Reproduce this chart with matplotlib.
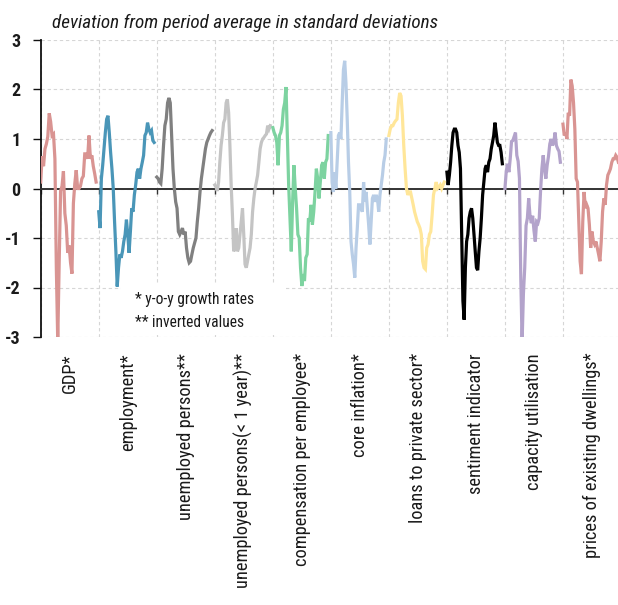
import numpy as np
import matplotlib
matplotlib.use("Agg")
import matplotlib.pyplot as plt
import matplotlib.font_manager as fm
from matplotlib.patches import Rectangle
import matplotlib.transforms as mtransforms

# ---------------- data ----------------
categories = ["GDP*", "employment*", "unemployed persons**",
              "unemployed persons(< 1 year)**", "compensation per employee*",
              "core inflation*", "loans to private sector*", "sentiment indicator",
              "capacity utilisation", "prices of existing dwellings*"]

gdp = [0.13, 0.65, 0.45, 0.8, 0.9, 1.05, 1.52, 1.35, 1.07, 1.1, 0.6, -1.6, -3.1, -1.5,
       -0.05, 0.05, 0.35, -0.5, -0.75, -1.3, -1.15, -1.5, -1.72, -0.3, 0.1, 0.37, 0.0,
       0.0, 0.05, 0.2, 0.25, 0.7, 0.7, 0.6, 1.07, 0.6, 0.67, 0.45, 0.3, 0.13]
employment = [-0.47, -0.8, 0.2, 0.47, 0.8, 1.13, 1.4, 1.47, 1.13, 0.73, 0.4, 0.0, -0.67,
              -1.27, -1.98, -1.6, -1.33, -1.4, -1.27, -1.07, -0.93, -0.63, -0.93, -1.3,
              -0.87, -0.4, -0.47, -0.13, 0.07, 0.33, 0.4, 0.2, 0.4, 0.53, 0.67, 1.07,
              1.13, 1.33, 1.2, 1.13, 1.17, 0.97, 0.93]
unemployed = [0.23, 0.2, 0.13, 0.1, 0.4, 0.87, 1.27, 1.4, 1.73, 1.83, 1.73, 1.07, 0.4, 0.0,
              -0.27, -0.4, -0.87, -0.93, -0.87, -0.8, -0.93, -0.87, -1.2, -1.4, -1.5,
              -1.47, -1.33, -1.2, -1.1, -1.0, -0.67, -0.4, -0.07, 0.2, 0.4, 0.6, 0.8,
              0.93, 1.0, 1.07, 1.13, 1.17]
unemployed_short = [0.07, 0.03, -0.05, 0.13, 0.53, 0.87, 1.07, 1.33, 1.4, 1.73, 1.8, 1.53,
                    0.87, 0.07, -0.53, -1.27, -1.2, -0.8, -1.27, -1.2, -0.93, -0.67, -0.4,
                    -0.93, -1.53, -1.6, -1.47, -1.33, -1.2, -0.93, -0.47, -0.2, 0.0, 0.13,
                    0.27, 0.53, 0.8, 0.93, 1.0, 1.03, 1.07, 1.1, 1.27, 1.2, 1.27]
compensation = [1.23, 1.13, 1.07, 0.93, 0.47, 1.07, 1.13, 1.27, 1.6, 1.73, 2.05, 1.07, 0.07,
                -0.6, -1.27, -0.27, 0.47, 0.0, -0.4, -0.93, -1.0, -1.6, -1.97, -1.73, -1.87,
                -1.4, -1.33, -0.6, -0.67, -0.33, -0.73, -0.47, -0.07, 0.4, 0.2, -0.2, 0.13,
                0.47, 0.53, 0.2, 0.53, 0.6, 1.07]
core_inflation = [1.13, 0.13, -0.07, 0.33, 0.0, 0.53, 1.07, 1.13, 1.0, 1.73, 2.4, 2.58, 2.13,
                  1.4, 0.53, -0.07, -1.07, -1.33, -1.53, -1.8, -1.2, -0.8, -0.33, -0.33,
                  -0.4, -0.47, 0.13, -0.27, -0.07, -0.4, -0.73, -1.13, -0.67, -0.2, -0.13,
                  -0.27, -0.13, -0.2, -0.47, -0.13, 0.07, 0.27, 0.53, 0.67, 1.0]
loans = [1.07, 1.2, 1.27, 1.27, 1.33, 1.37, 1.4, 1.73, 1.93, 1.87, 1.47, 0.87, 0.4, 0.0,
         -0.13, -0.07, -0.07, -0.2, -0.33, -0.47, -0.57, -0.67, -0.73, -0.8, -0.93, -1.47,
         -1.6, -1.63, -1.2, -1.13, -0.93, -0.87, -0.53, -0.13, 0.0, 0.13, 0.0, 0.03, 0.07,
         0.0, 0.07, 0.13]
sentiment = [0.33, 0.07, 0.27, 0.53, 0.87, 1.13, 1.2, 1.2, 1.13, 0.87, 0.73, 0.4, -0.93,
             -2.27, -2.65, -1.6, -1.07, -0.93, -0.6, -0.47, -0.4, -0.6, -0.93, -1.27, -1.6,
             -1.65, -1.27, -1.0, -0.6, -0.13, 0.13, 0.4, 0.47, 0.33, 0.53, 0.6, 0.8, 0.93,
             1.07, 1.33, 1.13, 0.93, 0.87, 0.87, 0.73, 0.5]
capacity = [0.0, 0.35, 0.5, 0.33, 0.6, 0.95, 0.97, 1.05, 1.13, 0.67, 0.55, 0.2, -1.8, -3.1,
            -2.13, -1.6, -0.75, -0.6, -0.2, -0.55, -0.7, -0.55, -0.85, -1.07, -0.67, -0.7,
            -0.6, -0.05, 0.4, 0.67, 0.4, 0.2, 0.47, 0.65, 0.9, 1.0, 0.87, 0.93, 1.13, 0.87,
            0.8, 0.75, 0.53]
dwellings = [1.3, 1.07, 1.13, 1.0, 1.53, 1.47, 2.2, 2.07, 1.73, 1.2, 0.2, 0.13, -0.67, -1.47,
             -1.73, -0.67, -0.07, -0.4, -0.33, -0.4, -0.73, -1.2, -0.87, -1.07, -1.13, -1.07,
             -1.2, -1.33, -1.47, -1.07, -0.47, -0.2, -0.33, 0.07, 0.27, 0.33, 0.4, 0.53, 0.6,
             0.6, 0.67, 0.63, 0.53]

series = [gdp, employment, unemployed, unemployed_short, compensation,
          core_inflation, loans, sentiment, capacity, dwellings]
colors = ["#d99492", "#4a96b8", "#808080", "#c4c4c4", "#7dd3a0",
          "#b8cde6", "#ffe699", "#000000", "#b3a3cb", "#d99492"]
yticks = [3, 2, 1, 0, -1, -2, -3]
title = "deviation from period average in standard deviations"
notes = ["* y-o-y growth rates", "** inverted values"]

# ---------------- fonts ----------------
_entries = fm.fontManager.ttflist
_names = {f.name for f in _entries}
if "Roboto Condensed" in _names:
    FAM, STRETCH = "Roboto Condensed", "normal"
elif "Liberation Sans Narrow" in _names:
    FAM, STRETCH = "Liberation Sans Narrow", "normal"
elif any(f.name == "DejaVu Sans" and str(f.stretch) == "condensed" for f in _entries):
    FAM, STRETCH = "DejaVu Sans", "condensed"
else:
    FAM, STRETCH = "DejaVu Sans", "normal"
plt.rcParams["font.family"] = [FAM, "DejaVu Sans"]
plt.rcParams["font.stretch"] = STRETCH
plt.rcParams["axes.unicode_minus"] = False

TXT = "#1a1a1a"

# ---------------- figure ----------------
W, H = 618, 605
fig = plt.figure(figsize=(W / 100, H / 100), dpi=100)
L, R, T, B = 40.7, 621.0, 40.0, 337.0
ax = fig.add_axes([L / W, 1 - B / H, (R - L) / W, (B - T) / H])

n = len(series)
ax.set_xlim(0, n)
ax.set_ylim(-3, 3)

for i, (vals, c) in enumerate(zip(series, colors)):
    x = np.linspace(i + 0.0, i + 0.955, len(vals))
    ax.plot(x, vals, color=c, lw=2.3, zorder=3, solid_joinstyle="miter")

# grid
ax.set_xticks(np.arange(0, n + 1))
ax.set_yticks(yticks)
ax.grid(True, color="#d6d6d6", lw=0.8, linestyle=(0, (3, 2.5)))
ax.set_axisbelow(True)

# spines
for s in ["top", "right"]:
    ax.spines[s].set_visible(False)
ax.spines["bottom"].set_position(("data", 0))
ax.spines["bottom"].set_color("#333333")
ax.spines["bottom"].set_linewidth(1.4)
ax.spines["bottom"].set_zorder(2.5)
ax.spines["left"].set_color("#111111")
ax.spines["left"].set_linewidth(1.3)

ax.tick_params(axis="x", direction="out", length=3.5, width=1.0, color="#333333",
               labelbottom=False)
ax.tick_params(axis="y", direction="out", length=5.5, width=1.0, color="#111111",
               pad=9, labelsize=13, labelcolor=TXT)
ax.set_yticklabels([str(v) for v in yticks], fontweight="bold")

# category labels
trans = mtransforms.blended_transform_factory(ax.transData, ax.transAxes)
for i, lab in enumerate(categories):
    ax.text(i + 0.5, -16 / (B - T), lab, transform=trans, rotation=90,
            ha="center", va="top", fontsize=13.2, color=TXT, clip_on=False)

# footnote box
ax.add_patch(Rectangle(((121 - L) / (R - L), (B - 335) / (B - T)),
                       (286 - 121) / (R - L), (335 - 283) / (B - T),
                       transform=ax.transAxes, facecolor="white", edgecolor="none",
                       zorder=1))
ax.text((135 - L) / (R - L), (B - 304) / (B - T), notes[0], transform=ax.transAxes,
        ha="left", va="baseline", fontsize=11.2, color=TXT, zorder=4)
ax.text((135 - L) / (R - L), (B - 326.7) / (B - T), notes[1], transform=ax.transAxes,
        ha="left", va="baseline", fontsize=11.2, color=TXT, zorder=4)

# title
fig.text(52 / W, 1 - 28 / H, title, ha="left", va="baseline", fontsize=13.8,
         style="italic", color=TXT)

fig.savefig("out.png", dpi=100)
